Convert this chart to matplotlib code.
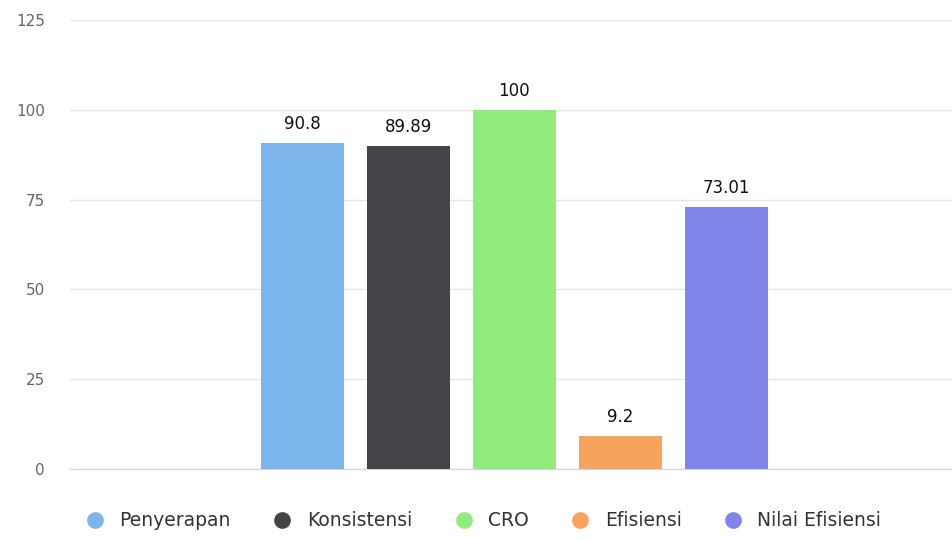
import matplotlib.pyplot as plt
from matplotlib.lines import Line2D

plt.rcParams['font.family'] = ['DejaVu Sans']

# Data
series = ['Penyerapan', 'Konsistensi', 'CRO', 'Efisiensi', 'Nilai Efisiensi']
values = [90.8, 89.89, 100, 9.2, 73.01]
labels = ['90.8', '89.89', '100', '9.2', '73.01']
colors = ['#7cb5ec', '#434348', '#90ed7d', '#f7a35c', '#8085e9']
yticks = [0, 25, 50, 75, 100, 125]

fig = plt.figure(figsize=(9.52, 5.4), dpi=100)
ax = fig.add_axes([70 / 952, 1 - 469 / 540, 882 / 952, 449 / 540])

pos = list(range(len(series)))
ax.bar(pos, values, width=0.78, color=colors, zorder=3)

for x, v, t in zip(pos, values, labels):
    ax.annotate(t, (x, v), xytext=(0, 7), textcoords='offset points',
                ha='center', va='bottom', fontsize=12, color='#111111', zorder=4)

ax.set_xlim(-2.19, 6.13)
ax.set_ylim(0, 125)
ax.set_yticks(yticks)
ax.set_xticks([])
ax.grid(axis='y', color='#e6e6e6', linewidth=1, zorder=0)
for s in ['top', 'right', 'left']:
    ax.spines[s].set_visible(False)
ax.spines['bottom'].set_color('#ccd6eb')
ax.tick_params(axis='y', length=0, pad=18, labelsize=11, labelcolor='#666666')

handles = [Line2D([], [], marker='o', linestyle='none', markersize=11,
                  markerfacecolor=c, markeredgecolor=c) for c in colors]
fig.legend(handles, series, loc='center', bbox_to_anchor=(0.503, 1 - 521 / 540),
           ncol=5, frameon=False, fontsize=13.5, handletextpad=0.3,
           columnspacing=1.75, labelcolor='#333333')

fig.savefig('out.png', dpi=100)
